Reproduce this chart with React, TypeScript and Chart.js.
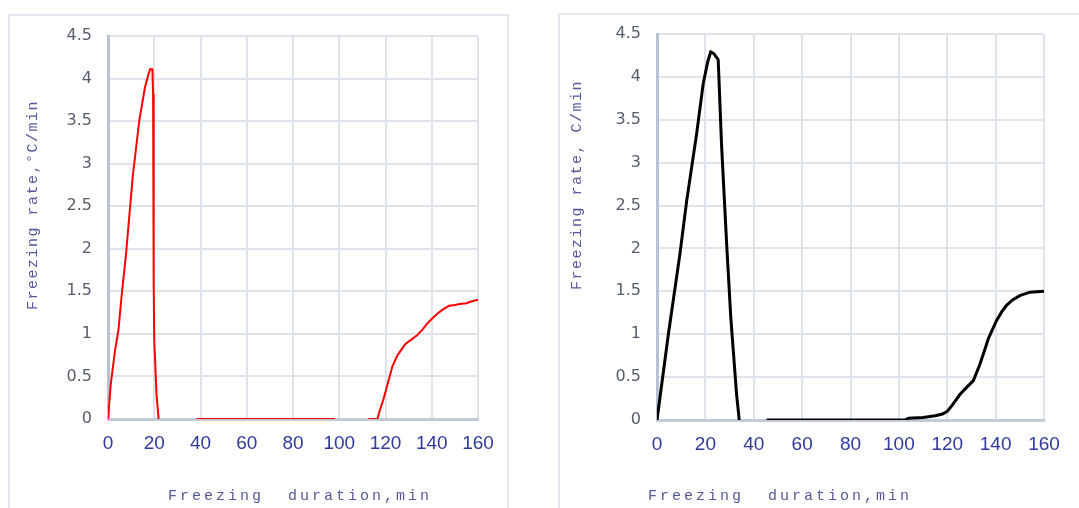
import React, { useEffect, useRef } from "react";
import { Chart, registerables } from "chart.js";

Chart.register(...registerables);

// Left panel (red) data
const redX = [0, 1.2, 3, 4.5, 5.9, 7.8, 10.7, 13.5, 16, 17.4, 18.2, 19.2, 19.5, 19.7, 19.8, 20, 21, 21.9, 30, 38.3, 98.2, 105, 112.6, 116.5, 117.5, 119, 121, 123, 125, 126.5, 128.5, 131, 133.5, 136, 138, 140.5, 143, 145, 147.5, 150, 152, 155, 157, 160];
const redY = [0, 0.41, 0.8, 1.04, 1.45, 1.94, 2.85, 3.5, 3.9, 4.04, 4.11, 4.11, 3.82, 3.68, 1.6, 0.92, 0.28, 0, null, 0, 0, null, 0, 0, 0.1, 0.22, 0.42, 0.62, 0.74, 0.8, 0.88, 0.93, 0.98, 1.05, 1.12, 1.19, 1.25, 1.29, 1.33, 1.34, 1.35, 1.36, 1.38, 1.4];

// Right panel (black) data
const blackX = [0, 4.7, 9.5, 12.3, 16.4, 19.1, 21, 22.2, 23.5, 25.3, 26.7, 28.8, 30.5, 32.9, 34, 40, 45.3, 102.5, 104, 110, 115, 118, 120, 122, 125.3, 128, 130.8, 133.5, 135.5, 137, 140.4, 142.5, 144.6, 147, 150, 154.2, 160];
const blackY = [0, 1.0, 1.94, 2.56, 3.34, 3.92, 4.18, 4.29, 4.27, 4.2, 3.2, 2.05, 1.2, 0.3, 0, null, 0, 0, 0.02, 0.03, 0.05, 0.07, 0.1, 0.17, 0.3, 0.38, 0.46, 0.65, 0.82, 0.95, 1.16, 1.26, 1.34, 1.4, 1.45, 1.49, 1.5];

const xMin = 0;
const xMax = 160;
const xStep = 20;
const yMin = 0;
const yMax = 4.5;
const yStep = 0.5;

const xTitle = "Freezing  duration,min";
const yTitleLeft = "Freezing rate,°C/min";
const yTitleRight = "Freezing rate, C/min";

type PanelCfg = {
  xs: number[];
  ys: (number | null)[];
  color: string;
  width: number;
  yAxisWidth: number;
  xAxisHeight: number;
  padTop: number;
  padRight: number;
  xTitlePos: [number, number];
  yTitlePos: [number, number];
  yTitle: string;
};

function makeTitlePlugin(cfg: PanelCfg) {
  return {
    id: "axisTitles",
    afterDraw(chart: any) {
      const ctx = chart.ctx as CanvasRenderingContext2D;
      ctx.save();
      ctx.fillStyle = "#55599c";
      ctx.textAlign = "center";
      ctx.textBaseline = "middle";
      ctx.font = "15px 'Liberation Mono', 'DejaVu Sans Mono', monospace";
      (ctx as any).letterSpacing = "3px";
      ctx.fillText(xTitle, cfg.xTitlePos[0], cfg.xTitlePos[1]);
      ctx.font = "15px 'Liberation Mono', 'DejaVu Sans Mono', monospace";
      (ctx as any).letterSpacing = "1.5px";
      ctx.translate(cfg.yTitlePos[0], cfg.yTitlePos[1]);
      ctx.rotate(-Math.PI / 2);
      ctx.fillText(cfg.yTitle, 0, 0);
      ctx.restore();
    },
  };
}

function Panel({ cfg, style }: { cfg: PanelCfg; style: React.CSSProperties }) {
  const ref = useRef<HTMLCanvasElement>(null);
  useEffect(() => {
    if (!ref.current) return;
    const data = cfg.xs.map((x, i) => ({ x, y: cfg.ys[i] }));
    const chart = new Chart(ref.current, {
      type: "line",
      data: {
        datasets: [
          {
            data: data as any,
            borderColor: cfg.color,
            borderWidth: cfg.width,
            pointRadius: 0,
            tension: 0,
            spanGaps: false,
            fill: false,
          },
        ],
      },
      options: {
        animation: false,
        responsive: false,
        maintainAspectRatio: false,
        layout: { padding: { top: cfg.padTop, right: cfg.padRight, left: 0, bottom: 0 } },
        plugins: { legend: { display: false }, tooltip: { enabled: false }, title: { display: false } },
        scales: {
          x: {
            type: "linear",
            min: xMin,
            max: xMax,
            ticks: {
              stepSize: xStep,
              color: "#2f3a9c",
              font: { family: "'Liberation Sans Narrow', 'Liberation Sans', sans-serif", size: 19 },
              padding: 13,
              maxRotation: 0,
              callback: (v: any) => String(v),
            },
            grid: { color: "#dfe4ec", lineWidth: 2, drawTicks: false },
            border: { display: true, color: "#c2cad6", width: 3 },
            afterFit: (s: any) => {
              s.height = cfg.xAxisHeight;
            },
          },
          y: {
            type: "linear",
            min: yMin,
            max: yMax,
            ticks: {
              stepSize: yStep,
              color: "#555d6b",
              font: { family: "'DejaVu Sans', sans-serif", size: 16 },
              padding: 16,
              callback: (v: any) => String(v),
            },
            grid: { color: "#dfe4ec", lineWidth: 2, drawTicks: false },
            border: { display: true, color: "#b7c3d3", width: 3 },
            afterFit: (s: any) => {
              s.width = cfg.yAxisWidth;
            },
          },
        },
      },
      plugins: [makeTitlePlugin(cfg)],
    });
    return () => chart.destroy();
  }, []);
  return <canvas ref={ref} width={style.width as number} height={508} style={{ position: "absolute", ...style, height: 508 }} />;
}

const leftCfg: PanelCfg = {
  xs: redX,
  ys: redY,
  color: "#ff0000",
  width: 2,
  yAxisWidth: 108,
  xAxisHeight: 89,
  padTop: 36,
  padRight: 62,
  xTitlePos: [300, 496],
  yTitlePos: [33, 205],
  yTitle: yTitleLeft,
};

const rightCfg: PanelCfg = {
  xs: blackX,
  ys: blackY,
  color: "#000000",
  width: 3,
  yAxisWidth: 117,
  xAxisHeight: 88,
  padTop: 34,
  padRight: 35,
  xTitlePos: [240, 496],
  yTitlePos: [37, 185],
  yTitle: yTitleRight,
};

export default function App() {
  return (
    <div style={{ position: "absolute", left: 0, top: 0, width: 1079, height: 508, overflow: "hidden", background: "#fff" }}>
      <div style={{ position: "absolute", left: 8, top: 14, width: 497, height: 520, border: "2px solid #e3e6ea" }} />
      <div style={{ position: "absolute", left: 558, top: 13, width: 600, height: 520, border: "2px solid #e3e6ea" }} />
      <Panel cfg={leftCfg} style={{ left: 0, top: 0, width: 540 }} />
      <Panel cfg={rightCfg} style={{ left: 540, top: 0, width: 539 }} />
    </div>
  );
}
